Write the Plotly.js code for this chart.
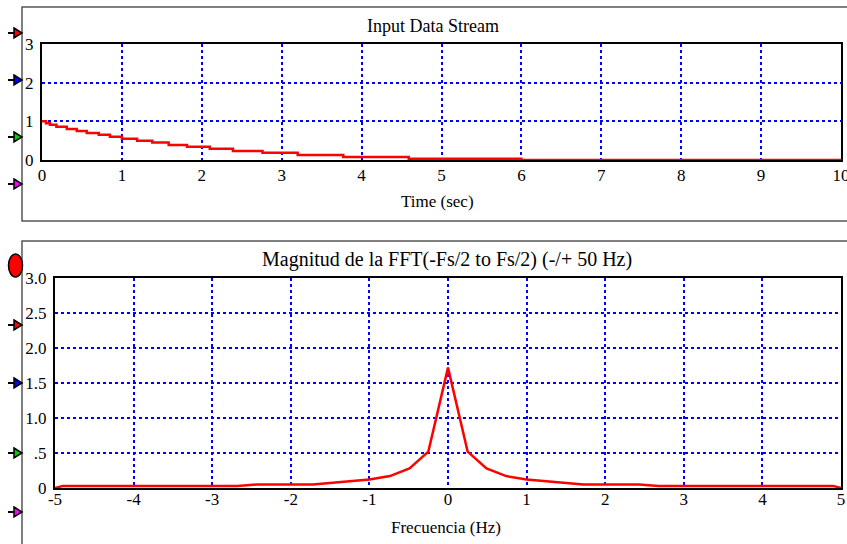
<!DOCTYPE html>
<html>
<head>
<meta charset="utf-8">
<script src="https://cdn.plot.ly/plotly-3.0.1.min.js"></script>
<style>html,body{margin:0;padding:0;background:#fff;}#chart{width:847px;height:544px;}</style>
</head>
<body>
<div id="chart"></div>
<script>
// ---- Data ----
const timeSec     = [0, 0.05, 0.1, 0.18, 0.31, 0.435, 0.56, 0.71, 0.85, 1.0, 1.19, 1.38, 1.585, 1.815, 2.1, 2.39, 2.76, 3.2, 3.77, 4.59, 6.0, 10];
const inputValue  = [1.0, 0.95, 0.91, 0.86, 0.80, 0.75, 0.70, 0.65, 0.60, 0.55, 0.50, 0.45, 0.39, 0.34, 0.29, 0.23, 0.19, 0.13, 0.075, 0.03, 0, 0];

const freqHz = [-5, -4.9, -2.68, -2.43, -1.72, -1.0, -0.74, -0.49, -0.25, 0, 0.25, 0.49, 0.74, 1.0, 1.72, 2.43, 2.68, 4.9, 5];
const fftMag = [0, 0.03, 0.03, 0.05, 0.05, 0.12, 0.17, 0.28, 0.52, 1.72, 0.52, 0.28, 0.17, 0.12, 0.05, 0.05, 0.03, 0.03, 0];

const timeTicks = [0, 1, 2, 3, 4, 5, 6, 7, 8, 9, 10];
const timeTickText = ['0', '1', '2', '3', '4', '5', '6', '7', '8', '9', '10'];
const topYTicks = [0, 1, 2, 3];
const topYTickText = ['0', '1', '2', '3'];
const freqTicks = [-5, -4, -3, -2, -1, 0, 1, 2, 3, 4, 5];
const freqTickText = ['-5', '-4', '-3', '-2', '-1', '0', '1', '2', '3', '4', '5'];
const magTickVals = [0, 0.5, 1, 1.5, 2, 2.5, 3];
const magTickText = ['0', '.5', '1.0', '1.5', '2.0', '2.5', '3.0'];

const topTitle = 'Input Data Stream';
const topXTitle = 'Time (sec)';
const botTitle = 'Magnitud de la FFT(-Fs/2 to Fs/2) (-/+ 50 Hz)';
const botXTitle = 'Frecuencia (Hz)';

// ---- Layout helpers (pixel -> paper) ----
const W = 847, H = 544;
const px = x => x / W;
const py = y => 1 - y / H;
const FONT = "'Liberation Serif', 'Times New Roman', serif";

const axisBase = {
  showgrid: true, gridcolor: '#0000ff', griddash: 'dot', gridwidth: 2,
  showline: true, linecolor: '#000', linewidth: 2, mirror: true,
  zeroline: false, ticks: '', fixedrange: true, layer: 'below traces',
  ticklabeloverflow: 'allow',
  tickfont: {family: FONT, size: 17, color: '#000'}
};

const traces = [
  {x: timeSec, y: inputValue, xaxis: 'x', yaxis: 'y', type: 'scatter', mode: 'lines',
   line: {shape: 'hv', color: '#ff0000', width: 2.5}, hoverinfo: 'skip'},
  {x: freqHz, y: fftMag, xaxis: 'x2', yaxis: 'y2', type: 'scatter', mode: 'lines',
   line: {color: '#ff0000', width: 2.5}, hoverinfo: 'skip'}
];

function arrow(cy, color) {
  return [
    {type: 'line', xref: 'paper', yref: 'paper', x0: px(8), x1: px(15), y0: py(cy), y1: py(cy),
     line: {color: '#000', width: 2}},
    {type: 'path', xref: 'paper', yref: 'paper',
     path: `M ${px(14)},${py(cy-5)} L ${px(22)},${py(cy)} L ${px(14)},${py(cy+5)} Z`,
     fillcolor: color, line: {color: '#000', width: 1.5}}
  ];
}

const shapes = [
  {type: 'rect', xref: 'paper', yref: 'paper', x0: px(22), x1: px(852), y0: py(7), y1: py(221),
   line: {color: '#555', width: 1.5}, layer: 'below'},
  {type: 'rect', xref: 'paper', yref: 'paper', x0: px(22), x1: px(852), y0: py(241), y1: py(552),
   line: {color: '#555', width: 1.5}, layer: 'below'},
  ...arrow(33, '#ff0000'), ...arrow(80, '#0000ff'), ...arrow(137, '#00cc00'), ...arrow(184, '#ff00ff'),
  {type: 'circle', xref: 'paper', yref: 'paper', x0: px(8.5), x1: px(22.5), y0: py(254), y1: py(277),
   fillcolor: '#ff0000', line: {color: '#000', width: 1.5}},
  ...arrow(325, '#ff0000'), ...arrow(383, '#0000ff'), ...arrow(453, '#00cc00'), ...arrow(512, '#ff00ff')
];

const ann = (text, x, y, size) => ({text, x: px(x), y: py(y), xref: 'paper', yref: 'paper',
  showarrow: false, xanchor: 'center', yanchor: 'middle', font: {family: FONT, size: size, color: '#000'}});

const layout = {
  width: W, height: H, margin: {l: 0, r: 0, t: 0, b: 0},
  font: {family: FONT, color: '#000'},
  paper_bgcolor: '#fff', plot_bgcolor: '#fff', showlegend: false,
  xaxis: Object.assign({}, axisBase, {domain: [px(42), px(841)], range: [0, 10], tickvals: timeTicks,
    ticktext: timeTickText, ticklabelstandoff: -1, anchor: 'y'}),
  yaxis: Object.assign({}, axisBase, {domain: [py(160), py(44)], range: [0, 3], tickvals: topYTicks,
    ticktext: topYTickText, ticklabelstandoff: 3, anchor: 'x'}),
  xaxis2: Object.assign({}, axisBase, {domain: [px(55), px(841)], range: [-5, 5], tickvals: freqTicks,
    ticktext: freqTickText, ticklabelstandoff: -5, anchor: 'y2'}),
  yaxis2: Object.assign({}, axisBase, {domain: [py(488), py(278)], range: [0, 3], tickvals: magTickVals,
    ticktext: magTickText, ticklabelstandoff: 3, anchor: 'x2'}),
  shapes: shapes,
  annotations: [
    ann(topTitle, 433, 26, 18), ann(topXTitle, 437, 201, 17),
    ann(botTitle, 447, 259, 20), ann(botXTitle, 446, 527, 17)
  ]
};

Plotly.newPlot('chart', traces, layout, {staticPlot: true, displayModeBar: false});
</script>
</body>
</html>
